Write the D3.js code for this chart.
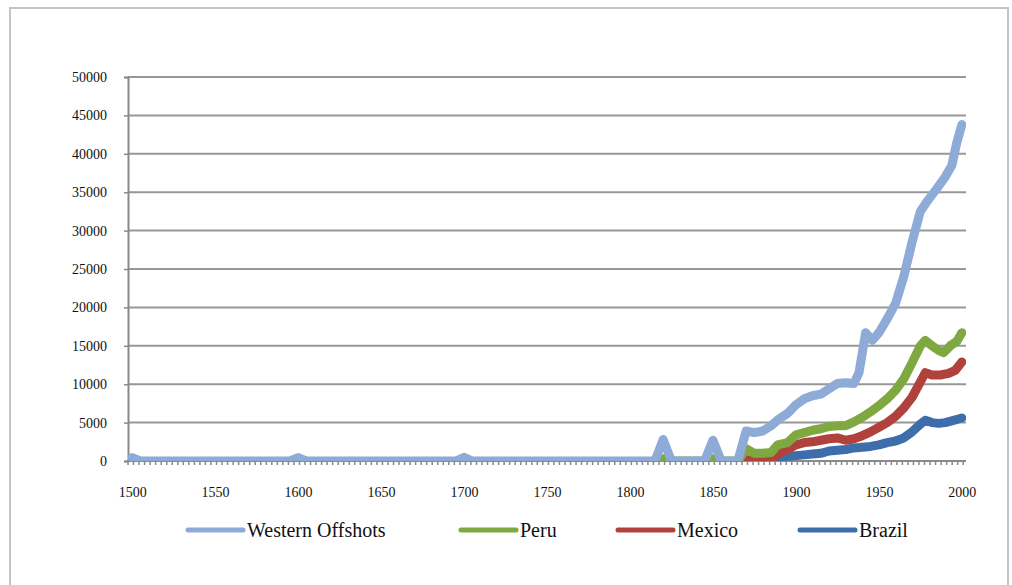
<!DOCTYPE html>
<html>
<head>
<meta charset="utf-8">
<script src="https://cdn.jsdelivr.net/npm/d3@7"></script>
<style>
  html, body { margin: 0; padding: 0; background: #fff; }
  svg { display: block; }
  svg text { font-family: "Liberation Serif", "DejaVu Serif", "Noto Serif", serif; fill: #111; }
</style>
</head>
<body>
<svg id="chart" width="1012" height="585"></svg>
<script>
// GDP per capita series, [year, value]
const westernOffshoots = [
  [1500, 450], [1505, 0], [1595, 0], [1600, 450], [1605, 0], [1695, 0], [1700, 480], [1705, 0],
  [1815, 0], [1820, 2800], [1825, 0], [1845, 0], [1850, 2700], [1855, 0], [1865, 0],
  [1870, 3900], [1875, 3700], [1880, 3900], [1885, 4600], [1890, 5500], [1895, 6200],
  [1900, 7300], [1905, 8100], [1910, 8500], [1915, 8700], [1920, 9400], [1925, 10100],
  [1930, 10200], [1935, 10100], [1938, 11500], [1942, 16700], [1946, 15700], [1950, 16700],
  [1955, 18500], [1960, 20500], [1965, 24000], [1970, 28500], [1975, 32500], [1979, 33800],
  [1985, 35500], [1990, 37000], [1994, 38500], [1997, 41500], [2000, 43800]
];
const peru = [
  [1815, 0], [1820, 300], [1825, 0], [1845, 0], [1850, 300], [1855, 0], [1865, 0],
  [1870, 1600], [1875, 1000], [1880, 1000], [1885, 1100], [1889, 2100], [1895, 2400],
  [1900, 3400], [1905, 3700], [1910, 4000], [1915, 4200], [1920, 4500], [1925, 4600],
  [1930, 4600], [1935, 5100], [1940, 5700], [1945, 6400], [1950, 7200], [1955, 8100],
  [1960, 9200], [1965, 10700], [1970, 12800], [1975, 15000], [1978, 15700], [1982, 15000],
  [1986, 14400], [1989, 14100], [1993, 15000], [1997, 15600], [2000, 16700]
];
const mexico = [
  [1870, 100], [1875, 0], [1880, 0], [1885, 0], [1889, 900], [1895, 1500], [1900, 2100],
  [1905, 2400], [1910, 2500], [1915, 2700], [1920, 2900], [1925, 3000], [1930, 2700],
  [1935, 2900], [1940, 3300], [1945, 3800], [1950, 4400], [1955, 5000], [1960, 5800],
  [1965, 6900], [1970, 8300], [1975, 10300], [1978, 11500], [1982, 11200], [1987, 11200],
  [1992, 11400], [1996, 11800], [2000, 12900]
];
const brazil = [
  [1870, 200], [1875, 0], [1880, 0], [1885, 0], [1890, 500], [1895, 600], [1900, 700],
  [1905, 800], [1910, 900], [1915, 1000], [1920, 1300], [1925, 1400], [1930, 1500],
  [1935, 1700], [1940, 1800], [1945, 1900], [1950, 2100], [1955, 2400], [1960, 2600],
  [1965, 3000], [1970, 3800], [1975, 4800], [1978, 5300], [1982, 5000], [1986, 4900],
  [1990, 5000], [1995, 5300], [2000, 5600]
];

const seriesNames = ["Western Offshots", "Peru", "Mexico", "Brazil"];
const seriesColors = ["#8eaad6", "#7fa840", "#b0413d", "#3d6eab"];
const seriesData = [westernOffshoots, peru, mexico, brazil];

const xTickLabels = [1500, 1550, 1600, 1650, 1700, 1750, 1800, 1850, 1900, 1950, 2000];
const yTickLabels = [0, 5000, 10000, 15000, 20000, 25000, 30000, 35000, 40000, 45000, 50000];

const serif = "'Liberation Serif', 'DejaVu Serif', 'Noto Serif', serif";
const svg = d3.select("#chart");
const plot = { left: 128, right: 966, top: 77, bottom: 461 };

const x = d3.scaleLinear().domain([1497.5, 2002.5]).range([plot.left, plot.right]);
const y = d3.scaleLinear().domain([0, 50000]).range([plot.bottom, plot.top]);

// outer chart frame
svg.append("rect")
  .attr("x", 10).attr("y", 8).attr("width", 998).attr("height", 620)
  .attr("fill", "#fff").attr("stroke", "#c4c4c4").attr("stroke-width", 2);

// horizontal gridlines
svg.append("g").selectAll("line").data(yTickLabels.slice(1)).join("line")
  .attr("x1", plot.left).attr("x2", plot.right)
  .attr("y1", d => y(d)).attr("y2", d => y(d))
  .attr("stroke", "#979797").attr("stroke-width", 2);

// y axis
const yAxis = d3.axisLeft(y).tickValues(yTickLabels).tickSize(4).tickPadding(17).tickFormat(d3.format("d"));
const gy = svg.append("g").attr("transform", `translate(${plot.left},0)`).call(yAxis)
  .attr("font-family", serif);
gy.select(".domain").attr("stroke", "#8a8a8a").attr("stroke-width", 2);
gy.selectAll(".tick line").attr("stroke", "#8a8a8a").attr("stroke-width", 1.5);
gy.selectAll(".tick text").attr("font-size", 14).style("font-family", serif).attr("fill", "#111");

// x axis: minor ticks along the category axis, labels every 50 years
const minorTicks = d3.range(1497.5, 2002.6, 10 / 3);
svg.append("g").selectAll("line").data(minorTicks).join("line")
  .attr("x1", d => x(d)).attr("x2", d => x(d))
  .attr("y1", plot.bottom).attr("y2", plot.bottom + 4)
  .attr("stroke", "#8a8a8a").attr("stroke-width", 1.5);

const xAxis = d3.axisBottom(x).tickValues(xTickLabels).tickSize(0).tickPadding(26).tickFormat(d3.format("d"));
const gx = svg.append("g").attr("transform", `translate(0,${plot.bottom})`).call(xAxis)
  .attr("font-family", serif);
gx.select(".domain").remove();
gx.selectAll(".tick text").attr("font-size", 14).style("font-family", serif).attr("fill", "#111");
svg.append("line")
  .attr("x1", plot.left - 1).attr("x2", plot.right)
  .attr("y1", plot.bottom).attr("y2", plot.bottom)
  .attr("stroke", "#8a8a8a").attr("stroke-width", 2);

// plot area clip
svg.append("clipPath").attr("id", "plotClip")
  .append("rect").attr("x", plot.left).attr("y", 0)
  .attr("width", plot.right - plot.left).attr("height", plot.bottom);

const line = d3.line().x(d => x(d[0])).y(d => y(d[1]));

// lower series first so Western Offshoots sits on top
const drawOrder = [3, 2, 1, 0];
svg.append("g").attr("clip-path", "url(#plotClip)")
  .selectAll("path").data(drawOrder).join("path")
  .attr("d", i => line(seriesData[i]))
  .attr("fill", "none")
  .attr("stroke", i => seriesColors[i])
  .attr("stroke-width", 9)
  .attr("stroke-linejoin", "round")
  .attr("stroke-linecap", "round");

// legend
const legendX = [188, 461, 618, 800];
const legend = svg.append("g").selectAll("g").data(seriesNames).join("g")
  .attr("transform", (d, i) => `translate(${legendX[i]},530)`);
legend.append("line")
  .attr("x1", 0).attr("x2", 55).attr("y1", 0).attr("y2", 0)
  .attr("stroke", (d, i) => seriesColors[i]).attr("stroke-width", 5)
  .attr("stroke-linecap", "round");
legend.append("text")
  .attr("x", 59).attr("y", 7)
  .attr("font-size", 20)
  .style("font-family", serif)
  .text(d => d);
</script>
</body>
</html>
